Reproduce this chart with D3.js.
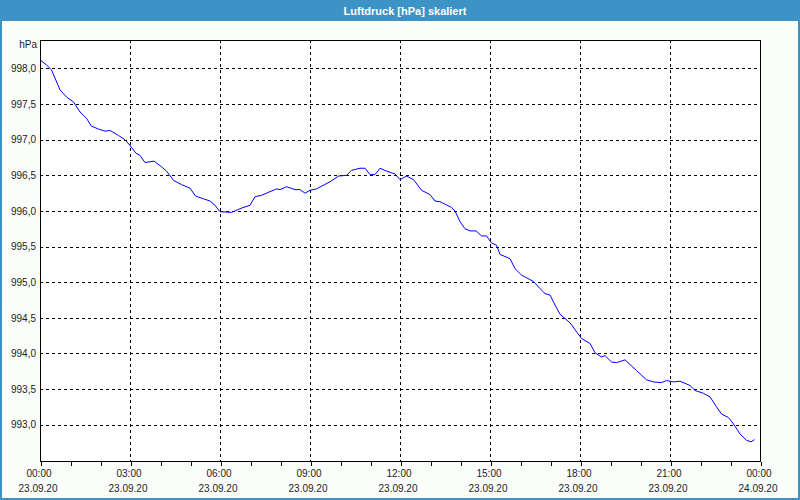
<!DOCTYPE html>
<html>
<head>
<meta charset="utf-8">
<script src="https://cdn.jsdelivr.net/npm/d3@7"></script>
<style>
html,body{margin:0;padding:0;background:#fbfdfb;}
svg{display:block;}
text{font-family:"Liberation Sans",Arial,sans-serif;}
</style>
</head>
<body>
<script>
const title = "Luftdruck [hPa] skaliert";
const unitLabel = "hPa";
// minutes after 23.09.20 00:00
const minutes = [0,13,23,40,53,67,80,93,103,117,130,140,157,170,180,192,200,210,228,243,253,267,283,300,311,327,340,350,360,383,403,420,430,443,473,480,493,510,520,530,540,553,580,597,613,623,640,650,660,670,680,693,710,720,733,747,763,780,790,800,823,830,840,850,860,872,883,893,903,913,920,940,950,963,987,1000,1010,1020,1030,1040,1060,1083,1100,1110,1123,1130,1143,1153,1170,1193,1213,1227,1243,1253,1267,1280,1300,1310,1327,1340,1353,1363,1377,1387,1400,1413,1422,1429];
const pressure = [998.12,998.05,997.98,997.70,997.60,997.53,997.39,997.30,997.19,997.15,997.12,997.13,997.06,997.00,996.92,996.81,996.78,996.68,996.70,996.62,996.56,996.43,996.37,996.32,996.21,996.17,996.14,996.08,995.99,995.98,996.04,996.08,996.20,996.22,996.31,996.30,996.34,996.30,996.30,996.25,996.29,996.31,996.41,996.49,996.50,996.57,996.60,996.60,996.51,996.51,996.60,996.56,996.52,996.44,996.49,996.44,996.29,996.23,996.14,996.13,996.05,996.00,995.85,995.75,995.72,995.72,995.65,995.65,995.55,995.52,995.39,995.33,995.19,995.10,995.01,994.91,994.84,994.82,994.68,994.55,994.43,994.21,994.14,994.01,993.95,993.97,993.88,993.87,993.91,993.76,993.63,993.60,993.59,993.62,993.60,993.61,993.55,993.48,993.44,993.39,993.25,993.15,993.10,993.01,992.87,992.78,992.76,992.79];
const yTicks = [993.0,993.5,994.0,994.5,995.0,995.5,996.0,996.5,997.0,997.5,998.0];
const yDomain = [992.49, 998.40];
const startTime = new Date(2020, 8, 23, 0, 0);
const endTime = new Date(2020, 8, 24, 0, 0);

const W = 800, H = 500;
const m = {left: 40, right: 40, top: 40, bottom: 39};

const svg = d3.select("body").append("svg").attr("width", W).attr("height", H);

// frame and title band
svg.append("rect").attr("x",0).attr("y",0).attr("width",W).attr("height",H).attr("fill","#fbfdfb");
svg.append("rect").attr("x",1).attr("y",1).attr("width",W-2).attr("height",H-2)
  .attr("fill","none").attr("stroke","#3d92c6").attr("stroke-width",2);
svg.append("rect").attr("x",0).attr("y",0).attr("width",W).attr("height",21).attr("fill","#3d92c6");
svg.append("text").attr("x",405).attr("y",15).attr("text-anchor","middle")
  .attr("fill","#ffffff").attr("font-size","11px").attr("font-weight","bold").text(title);

const x = d3.scaleTime().domain([startTime, endTime]).range([m.left, W - m.right]);
const y = d3.scaleLinear().domain(yDomain).range([H - m.bottom, m.top]);

const data = minutes.map((mn, i) => ({t: new Date(startTime.getTime() + mn * 60000), v: pressure[i]}));

// plot background
svg.append("rect").attr("x", m.left).attr("y", m.top).attr("width", W - m.left - m.right)
  .attr("height", H - m.top - m.bottom).attr("fill", "#ffffff");

const majorTicks = x.ticks(d3.timeHour.every(3));
const minorTicks = x.ticks(d3.timeHour.every(1));

// grid
const grid = svg.append("g").attr("shape-rendering","crispEdges")
  .attr("stroke","#000").attr("stroke-width",1).attr("stroke-dasharray","3,3");
grid.selectAll("line.v").data(majorTicks.filter(t => +t !== +startTime && +t !== +endTime)).join("line")
  .attr("x1", d => Math.round(x(d)) + 0.5).attr("x2", d => Math.round(x(d)) + 0.5)
  .attr("y1", m.top).attr("y2", H - m.bottom);
grid.selectAll("line.h").data(yTicks).join("line")
  .attr("x1", m.left).attr("x2", W - m.right)
  .attr("y1", d => Math.round(y(d)) + 0.5).attr("y2", d => Math.round(y(d)) + 0.5);

// data line
const line = d3.line().x(d => x(d.t)).y(d => y(d.v));
svg.append("path").datum(data).attr("d", line).attr("fill","none")
  .attr("stroke","#0000ff").attr("stroke-width",1);

// plot border
svg.append("rect").attr("x", m.left + 0.5).attr("y", m.top + 0.5)
  .attr("width", W - m.left - m.right).attr("height", H - m.top - m.bottom)
  .attr("fill","none").attr("stroke","#000").attr("shape-rendering","crispEdges");

// x axis
const fmtTime = d3.timeFormat("%H:%M"), fmtDate = d3.timeFormat("%d.%m.%y");
const xAxis = d3.axisBottom(x).tickValues(minorTicks).tickSize(4).tickFormat("");
const gx = svg.append("g").attr("transform", `translate(0.5,${H - m.bottom + 0.5})`).call(xAxis);
gx.select(".domain").remove();
gx.selectAll("line").attr("shape-rendering","crispEdges").attr("stroke","#000");
const xl = svg.append("g");
xl.selectAll("text.time").data(majorTicks).join("text")
  .attr("x", d => x(d) - 1).attr("y", 477).attr("text-anchor","middle")
  .attr("font-size","10px").attr("fill","#222").text(d => fmtTime(d));
xl.selectAll("text.date").data(majorTicks).join("text")
  .attr("x", d => x(d) - 2).attr("y", 492).attr("text-anchor","middle")
  .attr("font-size","10px").attr("fill","#222").text(d => fmtDate(d));

// y axis labels
const fmtY = v => d3.format(".1f")(v).replace(".", ",");
const yAxis = d3.axisLeft(y).tickValues(yTicks).tickSize(0).tickPadding(4).tickFormat(fmtY);
const gy = svg.append("g").attr("transform", `translate(${m.left},0)`).call(yAxis);
gy.select(".domain").remove();
gy.selectAll("text").attr("font-size","10px").attr("fill","#222")
  .attr("font-family",'"Liberation Sans",Arial,sans-serif');
svg.append("text").attr("x", 37).attr("y", 48).attr("text-anchor","end")
  .attr("font-size","10px").attr("fill","#222").text(unitLabel);
</script>
</body>
</html>
